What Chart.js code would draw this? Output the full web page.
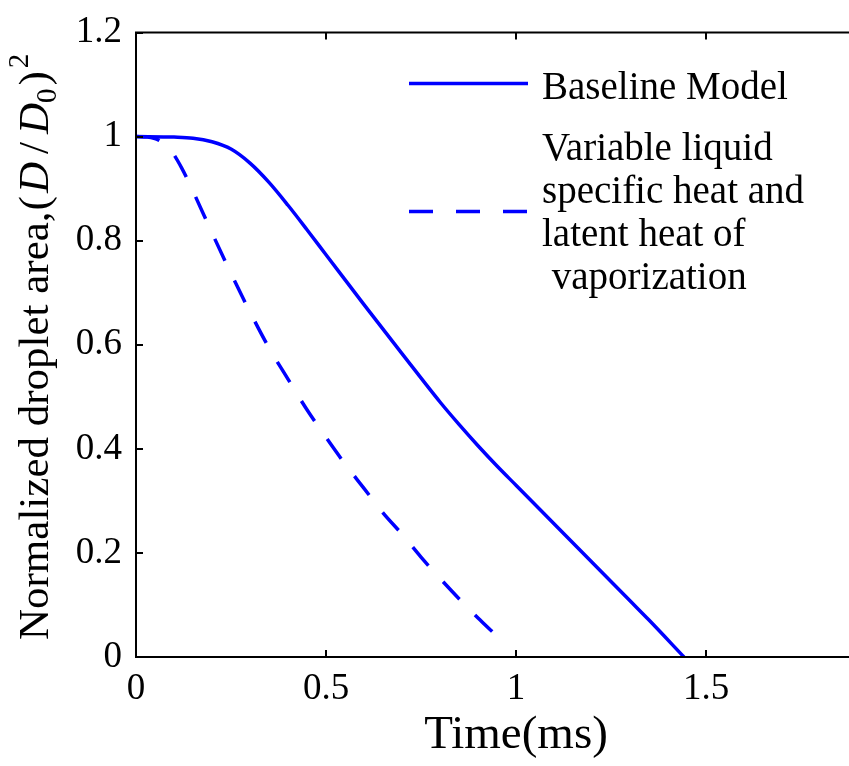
<!DOCTYPE html>
<html lang="en">
<head>
    <meta charset="UTF-8">
    <title>Normalized droplet area vs time</title>
    <script src="https://cdn.jsdelivr.net/npm/chart.js"></script>
    <style>
        html, body {
            margin: 0;
            background: #fff;
            overflow: hidden;
        }
        /* the original figure is cropped on the right, so the canvas is a bit wider than the window */
        .chart-container {
            width: 900px;
            height: 766px;
        }
    </style>
</head>
<body>

<div class="chart-container">
    <canvas id="dropletChart" width="900" height="766"></canvas>
</div>

<script>
    // values (time in ms, area normalized)
    const baselineTime = [0, 0.10, 0.15, 0.20, 0.25, 0.30, 0.35, 0.40, 0.45, 0.50, 0.60, 0.70, 0.80, 0.85, 0.90, 0.95, 1.00, 1.10, 1.20, 1.30, 1.35, 1.442];
    const baselineArea = [1.0, 0.999, 0.997, 0.990, 0.976, 0.949, 0.912, 0.868, 0.821, 0.773, 0.677, 0.583, 0.490, 0.447, 0.406, 0.367, 0.330, 0.256, 0.182, 0.108, 0.071, 0.0];

    const variableTime = [0, 0.03, 0.06, 0.09, 0.12, 0.15, 0.20, 0.25, 0.30, 0.35, 0.40, 0.45, 0.50, 0.55, 0.60, 0.65, 0.70, 0.75, 0.80, 0.85, 0.90, 0.94];
    const variableArea = [1.0, 0.999, 0.993, 0.975, 0.940, 0.895, 0.815, 0.737, 0.663, 0.594, 0.534, 0.475, 0.422, 0.371, 0.324, 0.277, 0.236, 0.192, 0.151, 0.112, 0.075, 0.047];

    // the 2 ms tick lies in the cropped-off part of the figure
    const xTicks = [0, 0.5, 1, 1.5];
    const yTicks = [0, 0.2, 0.4, 0.6, 0.8, 1, 1.2];

    const legendLabels = [
        ['Baseline Model'],
        ['Variable liquid', 'specific heat and', 'latent heat of', ' vaporization']
    ];

    const SERIF = '"Liberation Serif", "Times New Roman", serif';
    const BLUE = '#0000ff';

    function toPoints(xs, ys) {
        return xs.map((x, i) => ({ x: x, y: ys[i] }));
    }

    // box, tick marks pointing inward (like the original matlab axes)
    const frameAndTicks = {
        id: 'frameAndTicks',
        afterDatasetsDraw(chart) {
            const { ctx, chartArea: a, scales: { x, y } } = chart;
            ctx.save();
            ctx.strokeStyle = '#000';
            ctx.lineWidth = 2;
            ctx.strokeRect(a.left, a.top, a.right - a.left, a.bottom - a.top);
            ctx.beginPath();
            x.ticks.forEach(t => {
                const px = Math.round(x.getPixelForValue(t.value));
                ctx.moveTo(px, a.bottom);
                ctx.lineTo(px, a.bottom - 7);
                ctx.moveTo(px, a.top);
                ctx.lineTo(px, a.top + 7);
            });
            y.ticks.forEach(t => {
                const py = Math.round(y.getPixelForValue(t.value));
                ctx.moveTo(a.left, py);
                ctx.lineTo(a.left + 7, py);
                ctx.moveTo(a.right, py);
                ctx.lineTo(a.right - 7, py);
            });
            ctx.stroke();
            ctx.restore();
        }
    };

    // legend inside the plot, top right
    const plotLegend = {
        id: 'plotLegend',
        afterDraw(chart) {
            const { ctx, chartArea: a } = chart;
            const lineX0 = a.left + 273, lineX1 = a.left + 392, textX = a.left + 406;
            ctx.save();
            ctx.font = '39px ' + SERIF;
            ctx.fillStyle = '#000';
            ctx.textBaseline = 'alphabetic';
            ctx.strokeStyle = BLUE;
            ctx.lineWidth = 3.5;

            // solid entry
            ctx.beginPath();
            ctx.moveTo(lineX0, a.top + 51);
            ctx.lineTo(lineX1, a.top + 51);
            ctx.stroke();
            ctx.fillText(legendLabels[0][0], textX, a.top + 66);

            // dashed entry
            ctx.setLineDash([24, 23]);
            ctx.beginPath();
            ctx.moveTo(lineX0, a.top + 179);
            ctx.lineTo(lineX1, a.top + 179);
            ctx.stroke();
            ctx.setLineDash([]);
            legendLabels[1].forEach((line, i) => {
                ctx.fillText(line, textX, a.top + 127 + i * 43.3);
            });
            ctx.restore();
        }
    };

    // y title: roman text followed by (D/D0)^2 with italic D
    const yTitle = {
        id: 'yTitle',
        afterDraw(chart) {
            const { ctx } = chart;
            const roman = '43px ' + SERIF;
            const ital = 'italic 43px ' + SERIF;
            const small = '29px ' + SERIF;
            const parts = [
                { t: 'Normalized droplet area,', f: roman, dy: 0, gap: 0 },
                { t: '(', f: roman, dy: 0, gap: 1 },
                { t: 'D', f: ital, dy: 0, gap: 3 },
                { t: '/', f: roman, dy: 0, gap: 8 },
                { t: 'D', f: ital, dy: 0, gap: 8 },
                { t: '0', f: small, dy: 8, gap: 0 },
                { t: ')', f: roman, dy: 0, gap: 3 },
                { t: '2', f: small, dy: -20, gap: 3 }
            ];
            ctx.save();
            ctx.translate(48, 640);
            ctx.rotate(-Math.PI / 2);
            ctx.fillStyle = '#000';
            ctx.textBaseline = 'alphabetic';
            let pos = 0;
            parts.forEach(p => {
                ctx.font = p.f;
                pos += p.gap;
                ctx.fillText(p.t, pos, p.dy);
                pos += ctx.measureText(p.t).width;
            });
            ctx.restore();
        }
    };

    const tickFont = { family: SERIF, size: 37, lineHeight: 1 };

    new Chart(document.getElementById('dropletChart').getContext('2d'), {
        type: 'line',
        data: {
            datasets: [{
                label: 'Baseline Model',
                data: toPoints(baselineTime, baselineArea),
                borderColor: BLUE,
                borderWidth: 3.5,
                pointRadius: 0,
                fill: false,
                cubicInterpolationMode: 'monotone'
            }, {
                label: 'Variable liquid specific heat and latent heat of vaporization',
                data: toPoints(variableTime, variableArea),
                borderColor: BLUE,
                borderWidth: 3.5,
                borderDash: [24, 22],
                pointRadius: 0,
                fill: false,
                cubicInterpolationMode: 'monotone'
            }]
        },
        options: {
            responsive: false,
            animation: false,
            layout: {
                padding: { top: 21, right: 4, bottom: 0, left: 0 }
            },
            plugins: {
                legend: { display: false },
                tooltip: { enabled: false }
            },
            scales: {
                x: {
                    type: 'linear',
                    min: 0,
                    max: 2,
                    afterBuildTicks: s => { s.ticks = xTicks.map(v => ({ value: v })); },
                    afterFit: s => { s.height = 109; },
                    ticks: {
                        font: tickFont,
                        color: '#000',
                        padding: 14,
                        maxRotation: 0,
                        callback: v => String(v)
                    },
                    grid: { display: false, drawTicks: false },
                    border: { display: false },
                    title: {
                        display: true,
                        text: 'Time(ms)',
                        color: '#000',
                        font: { family: SERIF, size: 47, lineHeight: 1.2 },
                        padding: { top: 0, bottom: 2 }
                    }
                },
                y: {
                    min: 0,
                    max: 1.2,
                    afterBuildTicks: s => { s.ticks = yTicks.map(v => ({ value: v })); },
                    afterFit: s => { s.width = 136; },
                    ticks: {
                        font: tickFont,
                        color: '#000',
                        padding: 14,
                        callback: v => String(v)
                    },
                    grid: { display: false, drawTicks: false },
                    border: { display: false }
                }
            }
        },
        plugins: [frameAndTicks, plotLegend, yTitle]
    });
</script>
</body>
</html>
